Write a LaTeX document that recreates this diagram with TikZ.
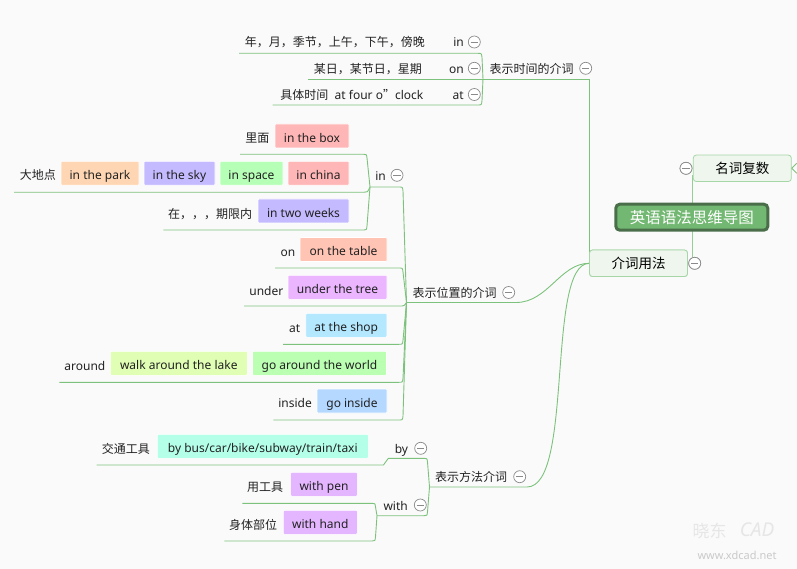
\documentclass[tikz,border=0pt]{standalone}
\usepackage{fontspec}
\setmainfont{Noto Sans}
\newfontfamily\cjk{Noto Sans CJK SC}
\definecolor{lgreen}{HTML}{7CC27C}
\definecolor{bg}{HTML}{FAFAFA}
\definecolor{txtc}{HTML}{222222}
\definecolor{cgray}{HTML}{8A8A8A}
\definecolor{cPink}{HTML}{FFB6B6}
\definecolor{cPeach}{HTML}{FFD6B3}
\definecolor{cLav}{HTML}{C4BAFF}
\definecolor{cLgreen}{HTML}{B6FFB6}
\definecolor{cSalmon}{HTML}{FFC4B4}
\definecolor{cLpurp}{HTML}{EBB6FF}
\definecolor{cCyan}{HTML}{B4E8FF}
\definecolor{cYg}{HTML}{E0FFB4}
\definecolor{cGr}{HTML}{BAFFB2}
\definecolor{cBlue}{HTML}{B4D8FF}
\definecolor{cAqua}{HTML}{B4FFE8}
\definecolor{cPurp}{HTML}{E4B6FF}
\definecolor{subfill}{HTML}{EEF6EE}
\definecolor{subdraw}{HTML}{A6D6A6}
\definecolor{rootfill}{HTML}{72B872}
\definecolor{rootdraw}{HTML}{4A6E4A}
\definecolor{wm}{HTML}{E6E6E6}
\begin{document}
\begin{tikzpicture}[x=1pt,y=-1pt,
  ln/.style={draw=lgreen, line width=0.9pt},
  txt/.style={inner sep=0pt, text height=10.5pt, text depth=0.5pt, font=\fontsize{12}{14}\selectfont, text=txtc},
  pbox/.style={inner sep=0pt, inner xsep=4pt, text height=13pt, text depth=0.4pt, font=\fontsize{12}{14}\selectfont, text=txtc, minimum height=24pt, rounded corners=1pt, draw=white, line width=0.6pt},
  sbox/.style={inner sep=0pt, minimum width=98pt, minimum height=26.5pt, rounded corners=3pt, fill=subfill, draw=subdraw, line width=0.8pt, font=\cjk\fontsize{13.5}{15}\selectfont, text=black},
  rootbox/.style={inner sep=0pt, minimum width=152pt, minimum height=26pt, rounded corners=4pt, fill=rootfill, draw=rootdraw, line width=3pt, font=\cjk\fontsize{15.5}{17}\selectfont, text=white},
  mcirc/.style={circle, draw=cgray, fill=white, minimum size=12pt, inner sep=0pt, line width=0.7pt,
    path picture={\draw[cgray, line width=0.7pt] ([xshift=-3.6pt]path picture bounding box.center) -- ([xshift=3.6pt]path picture bounding box.center);}}
]
\fill[bg] (0,0) rectangle (797,569);
\useasboundingbox (0,0) rectangle (797,569);

% ---------- main topics ----------
\node[sbox] (mf) at (742.3,168.3) {名词复数};
\node[sbox] (jy) at (638.5,263.3) {介词用法};
\node[mcirc] (mfc) at (686,168.3) {};
\node[mcirc] (jyc) at (694.7,263.3) {};

% ---------- junction coordinates ----------
\coordinate (JT) at (483,79);
\coordinate (JP) at (406.5,302.5);
\coordinate (JPin) at (370,187);
\coordinate (JM) at (429.5,487);
\coordinate (JW) at (377,515.7);
\coordinate (JYL) at (589.3,263.3);

% ---------- lines ----------
\draw[ln, draw=lgreen!80] ([yshift=-7pt]mf.west) -- (mf.west |- jyc.north);
\draw[ln] (mf.east) -- ++(5,-5);
\draw[ln] (mf.east) -- ++(5,5);
% time branch
\coordinate (t1s) at (239,53.3);
\coordinate (t2s) at (308.3,79);
\coordinate (t3s) at (272.7,105);
\draw[ln] (t1s) -- (478,53.3) .. controls (481.5,53.3) .. (482,57.5) -- (JT);
\draw[ln] (t2s) -- (JT);
\draw[ln] (t3s) -- (478,105) .. controls (481.5,105) .. (482,100.5) -- (JT);
\draw[ln] (JT) -- (589.3,79) -- (JYL);
% position branch
\draw[ln] (JP) -- (516,302.5) .. controls (548,302.5) and (560,263.3) .. (JYL);
\coordinate (p2s) at (275,268);
\coordinate (p3s) at (244,306);
\coordinate (p4s) at (283,344.3);
\coordinate (p5s) at (59.3,382.3);
\coordinate (p6s) at (273.3,420);
\draw[ln] (JPin) -- (399,187) .. controls (402.5,187) .. (403,191) -- (JP);
\draw[ln] (p2s) -- (399,268) .. controls (402.5,268) .. (403,272) -- (JP);
\draw[ln] (p3s) -- (400,306) .. controls (404,306) .. (JP);
\draw[ln] (p4s) -- (399,344.3) .. controls (402.5,344.3) .. (403,340.3) -- (JP);
\draw[ln] (p5s) -- (399,382.3) .. controls (402.5,382.3) .. (403,378.3) -- (JP);
\draw[ln] (p6s) -- (399,420) .. controls (402.5,420) .. (403,416) -- (JP);
% in children
\coordinate (i1s) at (240,154.3);
\coordinate (i2s) at (14,192.3);
\coordinate (i3s) at (163.3,230);
\draw[ln] (i1s) -- (364,154.3) .. controls (366.5,154.3) .. (367,158) -- (JPin);
\draw[ln] (i2s) -- (364,192.3) .. controls (367.5,192.3) .. (JPin);
\draw[ln] (i3s) -- (364,230) .. controls (366.5,230) .. (367,226) -- (JPin);
% method branch
\draw[ln] (JM) -- (527,487) .. controls (574,487) and (546,263.3) .. (JYL);
\coordinate (m1s) at (96.7,465);
\draw[ln] (m1s) -- (383.5,465) -- (388.3,458.3) -- (424,458.3) .. controls (427,458.3) .. (427.5,462) -- (JM);
\draw[ln] (JW) -- (424,515.7) .. controls (427,515.7) .. (427.5,512) -- (JM);
\coordinate (w1s) at (242.3,503.3);
\coordinate (w2s) at (224.3,541);
\draw[ln] (w1s) -- (372,503.3) .. controls (375,503.3) .. (375.5,507) -- (JW);
\draw[ln] (w2s) -- (372,541) .. controls (375,541) .. (375.5,537) -- (JW);

% redraw topic box and circles on top of lines
\node[sbox] at (jy) {介词用法};
\node[mcirc] at (jyc) {};
\node[mcirc] at (mfc) {};

% ---------- root ----------
\node[rootbox] (root) at (691.8,217.2) {英语语法思维导图};

% ---------- time branch texts ----------
\node[txt, anchor=west] (T) at (489.5,68.3) {\cjk 表示时间的介词};
\node[mcirc] (Tc) at (585.7,68.3) {};
\node[txt, anchor=east] (ti) at (464,42) {in};
\node[mcirc] (tic) at (474.3,42) {};
\node[txt, anchor=east] (tit) at (425,42) {\cjk 年，月，季节，上午，下午，傍晚};
\node[txt, anchor=east] (to) at (464,68.3) {on};
\node[mcirc] (toc) at (474.3,68.3) {};
\node[txt, anchor=east] (tot) at (422,68.3) {\cjk 某日，某节日，星期};
\node[txt, anchor=east] (ta) at (464,94.5) {at};
\node[mcirc] (tac) at (474.3,94.5) {};
\node[txt, anchor=east] (tat) at (423.5,94.5) {{\cjk 具体时间}\ \ at four o{\cjk ”}clock};

% ---------- position branch texts ----------
\node[txt, anchor=west] (P) at (412.3,292.7) {\cjk 表示位置的介词};
\node[mcirc] (Pc) at (508.7,292.5) {};
\node[txt, anchor=east] (pin) at (386,175.3) {in};
\node[mcirc] (pinc) at (397,175.3) {};

\node[pbox, fill=cPink, minimum width=74pt] (b1) at (312,136) {in the box};
\node[txt, anchor=east] (l1) at (269.5,137.3) {\cjk 里面};

\node[pbox, fill=cPeach, minimum width=78pt] (b2) at (100,173.3) {in the park};
\node[pbox, fill=cLav, minimum width=71pt] (b3) at (179.5,173.3) {in the sky};
\node[pbox, fill=cLgreen, minimum width=63pt] (b4) at (251.5,173.3) {in space};
\node[pbox, fill=cPink, minimum width=61pt] (b5) at (318.5,173.3) {in china};
\node[txt, anchor=east] (l2) at (56,175) {\cjk 大地点};

\node[pbox, fill=cLav, minimum width=91pt] (b6) at (303.5,211) {in two weeks};
\node[txt, anchor=east] (l3) at (252.3,213.3) {\cjk 在，，，期限内};

\node[pbox, fill=cSalmon, minimum width=87pt] (b7) at (343.5,249.5) {on the table};
\node[txt, anchor=east] (l4) at (295.5,251.7) {on};

\node[pbox, fill=cLpurp, minimum width=99pt] (b8) at (337.5,287.3) {under the tree};
\node[txt, anchor=east] (l5) at (283.5,290) {under};

\node[pbox, fill=cCyan, minimum width=81pt] (b9) at (346.3,325.3) {at the shop};
\node[txt, anchor=east] (l6) at (300.5,327.7) {at};

\node[pbox, fill=cYg, minimum width=137pt] (b10) at (178.8,363.3) {walk around the lake};
\node[pbox, fill=cGr, minimum width=134pt] (b11) at (319.5,363.3) {go around the world};
\node[txt, anchor=east] (l7) at (105.5,365) {around};

\node[pbox, fill=cBlue, minimum width=70pt] (b12) at (352,401) {go inside};
\node[txt, anchor=east] (l8) at (312,402.7) {inside};

% ---------- method branch texts ----------
\node[txt, anchor=west] (M) at (435,476.7) {\cjk 表示方法介词};
\node[mcirc] (Mc) at (519.7,476.7) {};
\node[txt, anchor=east] (by) at (408.3,448.3) {by};
\node[mcirc] (byc) at (420.7,448.3) {};
\node[pbox, fill=cAqua, minimum width=211pt] (b13) at (262.8,446.3) {by bus/car/bike/subway/train/taxi};
\node[txt, anchor=east] (l9) at (150,448.3) {\cjk 交通工具};

\node[txt, anchor=east] (with) at (408,505) {with};
\node[mcirc] (withc) at (420.3,505) {};
\node[pbox, fill=cPurp, minimum width=66.7pt] (b14) at (324,484.3) {with pen};
\node[txt, anchor=east] (l10) at (283.3,486.7) {\cjk 用工具};
\node[pbox, fill=cPurp, minimum width=74pt] (b15) at (320.3,522.3) {with hand};
\node[txt, anchor=east] (l11) at (277.3,524.3) {\cjk 身体部位};

% ---------- watermark ----------
\node[inner sep=0pt, text=wm, font=\cjk\fontsize{17}{17}\selectfont] (wm1) at (709.5,531) {晓东};
\node[inner sep=0pt, text=wm, font=\itshape\fontsize{19}{19}\selectfont] (wm2) at (757,530) {CAD};
\node[inner sep=0pt, text=wm!88!black, font=\fontsize{11}{11}\selectfont] (wm3) at (737,555) {www.xdcad.net};
\end{tikzpicture}
\end{document}
